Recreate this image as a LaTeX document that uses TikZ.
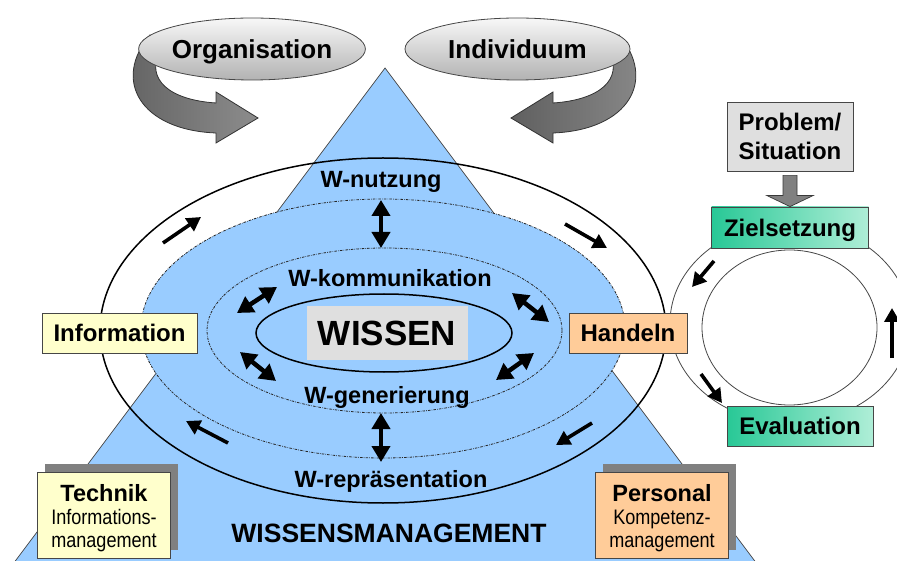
\documentclass[tikz,border=0pt]{standalone}
\usepackage{fontspec}
\setmainfont{Liberation Sans}
\newfontfamily\schmal{Liberation Sans}[FakeStretch=0.86]
\usetikzlibrary{arrows.meta, calc, positioning, shapes.geometric, shadows}
\definecolor{wmblau}{RGB}{153,204,255}
\definecolor{hellgelb}{RGB}{255,255,204}
\definecolor{pfirsich}{RGB}{255,204,153}
\definecolor{tuerkis}{RGB}{40,200,150}
\definecolor{mint}{RGB}{175,238,215}
\definecolor{randgrau}{RGB}{70,70,70}

\tikzset{
  kopf/.style={ellipse, draw=randgrau, line width=0.8pt, top color=gray!6, bottom color=gray!60,
    minimum height=62pt, inner sep=0pt, text depth=0pt, font=\fontsize{26}{30}\selectfont\bfseries},
  kasten/.style={draw=randgrau, line width=0.8pt, inner sep=0pt, minimum height=40pt,
    text depth=0pt, font=\fontsize{24}{29}\selectfont\bfseries},
  unterkasten/.style={draw=randgrau, line width=0.8pt, inner sep=0pt, align=center,
    minimum width=133pt, minimum height=86pt, font=\fontsize{21}{23}\selectfont,
    drop shadow={fill=gray, opacity=1, shadow xshift=7pt, shadow yshift=8pt}},
  wtext/.style={anchor=base, inner sep=0pt, font=\fontsize{23.5}{28}\selectfont\bfseries},
  ring/.style={draw=randgrau, line width=0.8pt},
  punktlinie/.style={draw=black!85, line width=0.8pt, dash pattern=on 2.5pt off 1.2pt on 0.6pt off 1.2pt},
  pfeil/.style={line width=3.6pt, -{Triangle[length=14pt,width=15pt]}},
  doppel/.style={line width=4.5pt, {Triangle[length=16pt,width=18pt]}-{Triangle[length=16pt,width=18pt]}},
  band/.pic={
    \draw[draw=gray!40!black, line width=0.8pt, left color=gray!75!black, right color=gray!90]
      (-234.5,-14) .. controls (-272.5,31) and (-244.5,81) .. (-168.5,84)
      -- (-168.5,94) -- (-126.5,69) -- (-168.5,43) -- (-168.5,54)
      .. controls (-214.5,51) and (-239.5,31) .. (-224.5,1) -- cycle;
  }
}

\begin{document}
\begin{tikzpicture}[x=1pt, y=-1pt]
\useasboundingbox (0,0) rectangle (897,561);
\clip (0,0) rectangle (897,561);

% Baender hinter den Kopf-Ellipsen
\pic at (384.5,49) {band};
\pic[xscale=-1] at (384.5,49) {band};

% Organisation / Individuum
\node[kopf, minimum width=220pt] (org) at (252,49) {Organisation};
\node[kopf, minimum width=225pt] (ind) at (517.5,49) {Individuum};

% Dreieck
\draw[fill=wmblau, draw=randgrau, line width=0.7pt] (385,68) -- (-14,600) -- (784,600) -- cycle;

% Ellipsen um das Wissen
\draw[line width=1.5pt] (383,330.5) ellipse [x radius=283, y radius=172.5];
\draw[punktlinie, fill=wmblau] (383,328.5) ellipse [x radius=242, y radius=129.5];
\draw[punktlinie] (384.5,330.5) ellipse [x radius=177.5, y radius=82.5];
\draw[line width=1.5pt] (384,333) ellipse [x radius=128, y radius=39];

\node[fill=gray!25, minimum width=161pt, minimum height=54pt, inner sep=0pt,
  font=\fontsize{35}{40}\selectfont\bfseries] (wissen) at (387,333) {WISSEN};

\node[wtext] (nutzung) at (381,188) {W-nutzung};
\node[wtext] (komm) at (390,287) {W-kommunikation};
\node[wtext] (gen) at (387,403) {W-generierung};
\node[wtext] (rep) at (391,487) {W-repr\"asentation};

% Doppelpfeile zwischen den Ringen
\foreach \n/\a/\b in {o/{381,200}/{381,248}, u/{381,413}/{381,462},
    lo/{237,313}/{277,287}, ro/{512,293}/{549,322},
    lu/{240,352}/{276,381}, ru/{496,380}/{534,353}} {
  \coordinate (d\n-a) at (\a);
  \coordinate (d\n-b) at (\b);
  \draw[doppel] (d\n-a) -- (d\n-b);
}

% Umlauf auf der aeusseren Ellipse
\foreach \n/\a/\b in {lo/{163,243}/{201,217}, ro/{565,224}/{607,248},
    lu/{228,443}/{186,421}, ru/{592,423}/{556,445}} {
  \coordinate (u\n-a) at (\a);
  \coordinate (u\n-b) at (\b);
  \draw[pfeil] (u\n-a) -- (u\n-b);
}

% Handlungskreislauf
\draw[ring] (790,323) ellipse [x radius=120, y radius=100];
\draw[ring] (789.5,327.5) ellipse [x radius=87.5, y radius=77.5];
\foreach \n/\a/\b in {o/{714,261}/{692,287}, u/{701,374}/{722,403}, r/{892,358}/{892,308}} {
  \coordinate (k\n-a) at (\a);
  \coordinate (k\n-b) at (\b);
  \draw[pfeil] (k\n-a) -- (k\n-b);
}

\node[kasten, fill=hellgelb, minimum width=155pt] (info) at (119.5,333) {Information};
\node[kasten, fill=pfirsich, minimum width=118pt] (handeln) at (628,333) {Handeln};

\node[kasten, left color=tuerkis, right color=mint, minimum width=157pt, minimum height=41pt] (ziel) at (790,227.5) {Zielsetzung};
\node[kasten, left color=tuerkis, right color=mint, minimum width=146pt] (eval) at (800,426) {Evaluation};
\node[kasten, fill=gray!25, minimum width=126pt, minimum height=69pt, align=center] (problem) at (790,136.5) {Problem/\\Situation};

% Blockpfeil Problem -> Zielsetzung
\draw[draw=gray!45!black, fill=gray, line width=0.7pt]
  ($(problem.south)+(-7,4)$) -- ($(ziel.north)+(-7,-11)$) -- ($(ziel.north)+(-23,-11)$)
  -- (ziel.north) -- ($(ziel.north)+(23,-11)$) -- ($(ziel.north)+(7,-11)$)
  -- ($(problem.south)+(7,4)$) -- cycle;

% Technik und Personal
\node[unterkasten, fill=hellgelb] (technik) at (104,515)
  {{\fontsize{23.5}{27}\selectfont\bfseries\rule{0pt}{23pt}Technik}\\{\schmal Informations-}\\{\schmal management}};
\node[unterkasten, fill=pfirsich] (personal) at (662,515)
  {{\fontsize{23.5}{27}\selectfont\bfseries\rule{0pt}{23pt}Personal}\\{\schmal Kompetenz-}\\{\schmal management}};

\node[font=\fontsize{26.5}{30}\selectfont\bfseries] (wm) at (389,533) {WISSENSMANAGEMENT};

\end{tikzpicture}
\end{document}
